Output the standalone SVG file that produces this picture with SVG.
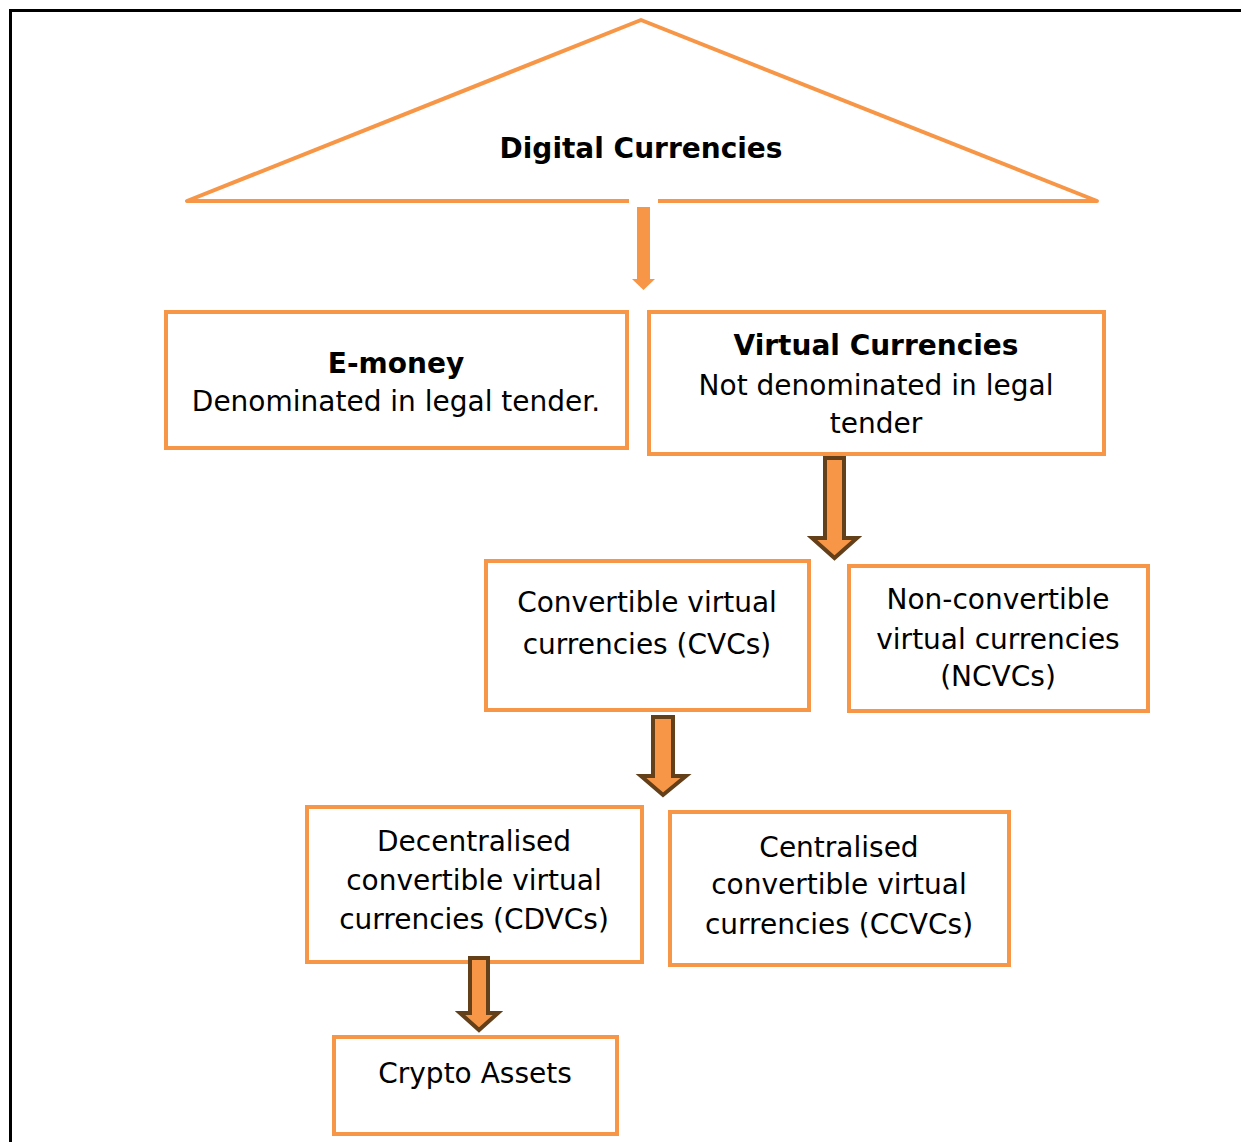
<svg xmlns="http://www.w3.org/2000/svg" width="1241" height="1142" viewBox="0 0 1241 1142">
<style>
.box{fill:#fff;stroke:#F79646;stroke-width:4}
.t{font-family:"DejaVu Sans",Verdana,sans-serif;font-size:28px;fill:#000;text-anchor:middle}
.b{font-weight:bold}
.ar{fill:#F79646;stroke:#633F1A;stroke-width:4;stroke-linejoin:miter}
</style>
<rect width="1241" height="1142" fill="#fff"/>
<path d="M10.5,1142 V10.5 H1241" fill="none" stroke="#000" stroke-width="3"/>
<g id="digital">
<polygon points="641,20 187,201 1097,201" fill="#fff" stroke="#F79646" stroke-width="4" stroke-linejoin="round"/>
<rect x="629" y="198" width="29" height="7" fill="#fff"/>
<text class="t b" x="641" y="158">Digital Currencies</text>
</g>
<g id="emoney">
<rect class="box" x="166" y="312" width="461" height="136"/>
<text class="t b" x="396" y="373">E-money</text>
<text class="t" x="396" y="411">Denominated in legal tender.</text>
</g>
<g id="virtual">
<rect class="box" x="649" y="312" width="455" height="142"/>
<text class="t b" x="876" y="355">Virtual Currencies</text>
<text class="t" x="876" y="395">Not denominated in legal</text>
<text class="t" x="876" y="433">tender</text>
</g>
<g id="cvc">
<rect class="box" x="486" y="561" width="323" height="149"/>
<text class="t" x="647" y="612">Convertible virtual</text>
<text class="t" x="647" y="654">currencies (CVCs)</text>
</g>
<g id="ncvc">
<rect class="box" x="849" y="566" width="299" height="145"/>
<text class="t" x="998" y="609">Non-convertible</text>
<text class="t" x="998" y="649">virtual currencies</text>
<text class="t" x="998" y="686">(NCVCs)</text>
</g>
<g id="cdvc">
<rect class="box" x="307" y="807" width="335" height="155"/>
<text class="t" x="474" y="851">Decentralised</text>
<text class="t" x="474" y="890">convertible virtual</text>
<text class="t" x="474" y="929">currencies (CDVCs)</text>
</g>
<g id="ccvc">
<rect class="box" x="670" y="812" width="339" height="153"/>
<text class="t" x="839" y="857">Centralised</text>
<text class="t" x="839" y="894">convertible virtual</text>
<text class="t" x="839" y="934">currencies (CCVCs)</text>
</g>
<g id="crypto">
<rect class="box" x="334" y="1037" width="283" height="97"/>
<text class="t" x="475" y="1083">Crypto Assets</text>
</g>
<g id="connectors">
<polygon points="637,207 650,207 650,279 655,279 643.5,290 632,279 637,279" fill="#F79646"/>
<polygon class="ar" points="825,458 844,458 844,538 857,538 834.5,558 812,538 825,538"/>
<polygon class="ar" points="653,717 673,717 673,776 686,776 663,795 641,776 653,776"/>
<polygon class="ar" points="470,958 488,958 488,1013 498,1013 479,1030 460,1013 470,1013"/>
</g>
</svg>
